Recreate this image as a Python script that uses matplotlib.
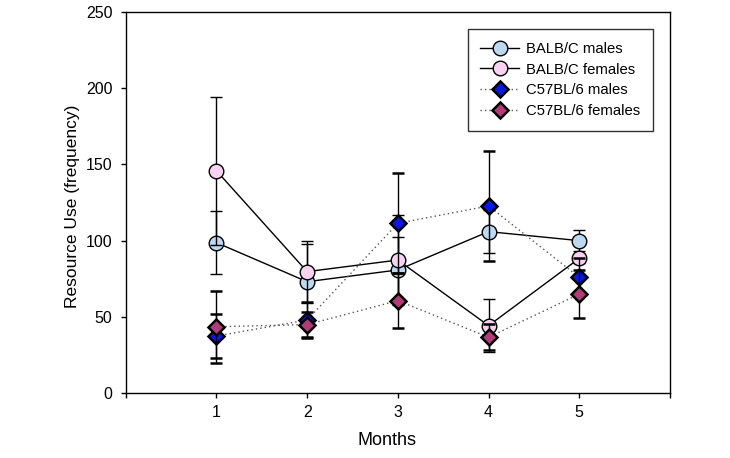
import numpy as np
import matplotlib.pyplot as plt

plt.rcParams['font.family'] = ['Liberation Sans', 'DejaVu Sans']

months = [1, 2, 3, 4, 5]

balb_m = [98.7, 73.1, 80.8, 105.9, 100.0]
balb_m_se = [20.8, 24.7, 21.8, 14.2, 7.0]
balb_f = [145.8, 79.7, 87.3, 44.3, 88.4]
balb_f_se = [48.5, 20.3, 29.5, 17.3, 3.0]
c57_m = [37.5, 48.0, 111.4, 122.7, 76.0]
c57_m_se = [14.3, 11.5, 32.7, 36.2, 12.4]
c57_f = [43.6, 45.0, 60.7, 36.7, 65.0]
c57_f_se = [23.7, 8.3, 18.1, 8.5, 15.5]

labels = ["BALB/C males", "BALB/C females", "C57BL/6 males", "C57BL/6 females"]

fig = plt.figure(figsize=(7.3, 4.58), dpi=100, facecolor="white")
ax = fig.add_axes([0.1722, 0.1413, 0.7456, 0.8332])

dotted = (0, (1, 2.2))
series = [
    (balb_m, balb_m_se, 'o', "#BDD9F2", '-', "black", 1.0, 10.5),
    (balb_f, balb_f_se, 'o', "#F9D2F2", '-', "black", 1.0, 10.5),
    (c57_m, c57_m_se, 'D', "#0A18E6", dotted, "#555555", 1.8, 8.6),
    (c57_f, c57_f_se, 'D', "#B23C78", dotted, "#555555", 1.8, 8.6),
]

handles = []
for i, (vals, se, mk, fc, ls, lc, mew, ms) in enumerate(series):
    cont = ax.errorbar(months, vals, yerr=se, fmt=mk, linestyle=ls, color=lc,
                       lw=1.0, markersize=ms, markerfacecolor=fc,
                       markeredgecolor="black", markeredgewidth=mew,
                       ecolor="black", elinewidth=1.0, capsize=4, capthick=1.0,
                       zorder=3 + i)
    handles.append(cont[0])

ax.set_xlim(0, 6)
ax.set_ylim(0, 250)
ax.set_xticks(range(0, 7))
ax.set_xticklabels(["", "1", "2", "3", "4", "5", ""])
ax.set_yticks(np.arange(0, 251, 50))
ax.tick_params(direction="out", length=3.5, width=1, labelsize=11.5)
ax.tick_params(axis="y", pad=6)
ax.tick_params(axis="x", pad=5)
for sp in ax.spines.values():
    sp.set_linewidth(1.0)

ax.set_xlabel("Months", fontsize=13)
ax.set_ylabel("Resource Use (frequency)", fontsize=12.5)
ax.xaxis.set_label_coords(0.48, -0.102)
ax.yaxis.set_label_coords(-0.084, 0.49)

leg = ax.legend(handles, labels, loc="upper right", bbox_to_anchor=(0.969, 0.954),
                borderaxespad=0, frameon=True, fancybox=False, fontsize=10.7,
                handlelength=2.6, handletextpad=0.5, labelspacing=0.45,
                borderpad=0.85, edgecolor="black")
leg.get_frame().set_linewidth(1.0)

fig.savefig("out.png", dpi=100)
